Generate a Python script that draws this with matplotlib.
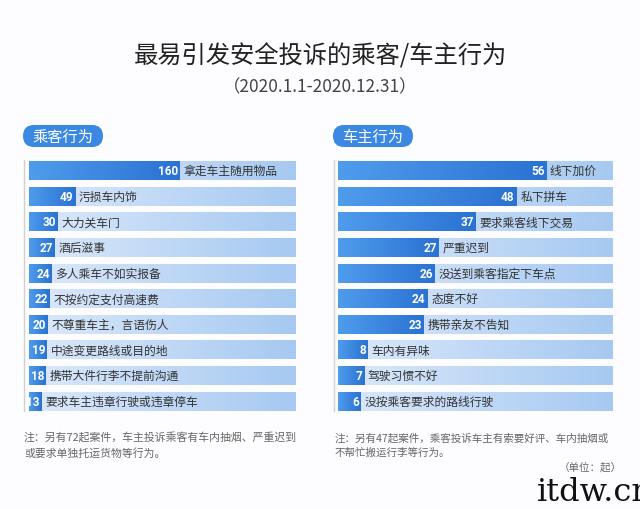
import numpy as np
import matplotlib.pyplot as plt
from matplotlib.colors import LinearSegmentedColormap
from matplotlib.patches import FancyBboxPatch

plt.rcParams['font.family'] = ['Noto Sans CJK SC', 'DejaVu Sans']

title = '最易引发安全投诉的乘客/车主行为'
subtitle = '（2020.1.1-2020.12.31）'

passenger_items = ['拿走车主随用物品', '污损车内饰', '大力关车门', '酒后滋事', '多人乘车不如实报备',
                   '不按约定支付高速费', '不尊重车主，言语伤人', '中途变更路线或目的地',
                   '携带大件行李不提前沟通', '要求车主违章行驶或违章停车']
passenger_counts = [160, 49, 30, 27, 24, 22, 20, 19, 18, 13]

driver_items = ['线下加价', '私下拼车', '要求乘客线下交易', '严重迟到', '没送到乘客指定下车点',
                '态度不好', '携带亲友不告知', '车内有异味', '驾驶习惯不好', '没按乘客要求的路线行驶']
driver_counts = [56, 48, 37, 27, 26, 24, 23, 8, 7, 6]

passenger_note = ['注：另有72起案件，车主投诉乘客有车内抽烟、严重迟到',
                  '或要求单独托运货物等行为。']
driver_note = ['注：另有47起案件，乘客投诉车主有索要好评、车内抽烟或',
               '不帮忙搬运行李等行为。']

light = LinearSegmentedColormap.from_list('light', ['#dce9fb', '#a6c9f1'])
dark = LinearSegmentedColormap.from_list('dark', ['#4f9cec', '#2a72d3'])
grad = np.linspace(0, 1, 256).reshape(1, -1)

fig = plt.figure(figsize=(6.4, 5.1), dpi=100)
fig.patch.set_facecolor('#fdfcfe')

# pixel-space canvas for decorations
bg = fig.add_axes([0, 0, 1, 1])
bg.set_xlim(0, 640)
bg.set_ylim(510, 0)
bg.axis('off')

bg.text(320, 57, title, ha='center', va='center', fontsize=17.5, fontweight='medium', color='#222222')
bg.text(320, 87, subtitle, ha='center', va='center', fontsize=12.5, color='#444444')

for x0, label in [(23, '乘客行为'), (333, '车主行为')]:
    pill = FancyBboxPatch((x0, 126), 80, 22, boxstyle='round,pad=0,rounding_size=11',
                          facecolor='#3b88e2', edgecolor='none')
    bg.add_patch(pill)
    bg.text(x0 + 40, 137, label, ha='center', va='center', fontsize=11,
            fontweight='medium', color='white')
    bg.plot([x0 + 1, x0 + 1], [161, 412], color='#d0d0d0', lw=1)

for x0, lines, fs in [(24, passenger_note, 7.8), (335, driver_note, 7.6)]:
    for k, line in enumerate(lines):
        bg.text(x0, 438 + 15 * k, line, ha='left', va='center', fontsize=fs, color='#666666')
bg.text(622, 467, '（单位：起）', ha='right', va='center', fontsize=7.6, color='#666666')
bg.text(537, 493, 'itdw.cn', ha='left', va='center', fontsize=23, family='DejaVu Serif',
        color='#111111')


def draw_panel(left, right, items, counts, xmax):
    ax = fig.add_axes([left / 640, 1 - 415 / 510, (right - left) / 640, 256 / 510])
    ax.patch.set_alpha(0)
    y = np.arange(len(items))
    h = 0.74
    full = ax.barh(y, [xmax] * len(items), height=h, color='none')
    main = ax.barh(y, counts, height=h, color='none')
    for b in full:
        ax.imshow(grad, cmap=light, aspect='auto', interpolation='bicubic',
                  extent=(b.get_x(), b.get_x() + b.get_width(), b.get_y() + h, b.get_y()))
    for b in main:
        ax.imshow(grad, cmap=dark, aspect='auto', interpolation='bicubic',
                  extent=(b.get_x(), b.get_x() + b.get_width(), b.get_y() + h, b.get_y()))
    for yi, c, name in zip(y, counts, items):
        ax.text(c - xmax * 0.006, yi, str(c), ha='right', va='center', color='white',
                fontsize=8.5, fontweight='bold', family='Roboto')
        ax.text(c + xmax * 0.014, yi, name, ha='left', va='center', color='#333333', fontsize=8.5)
    ax.set_xlim(0, xmax)
    ax.set_ylim(len(items) - 0.5, -0.5)
    ax.axis('off')


draw_panel(29, 296, passenger_items, passenger_counts, 283)
draw_panel(338, 613, driver_items, driver_counts, 74)

fig.savefig('out.png', dpi=100, facecolor=fig.get_facecolor())
